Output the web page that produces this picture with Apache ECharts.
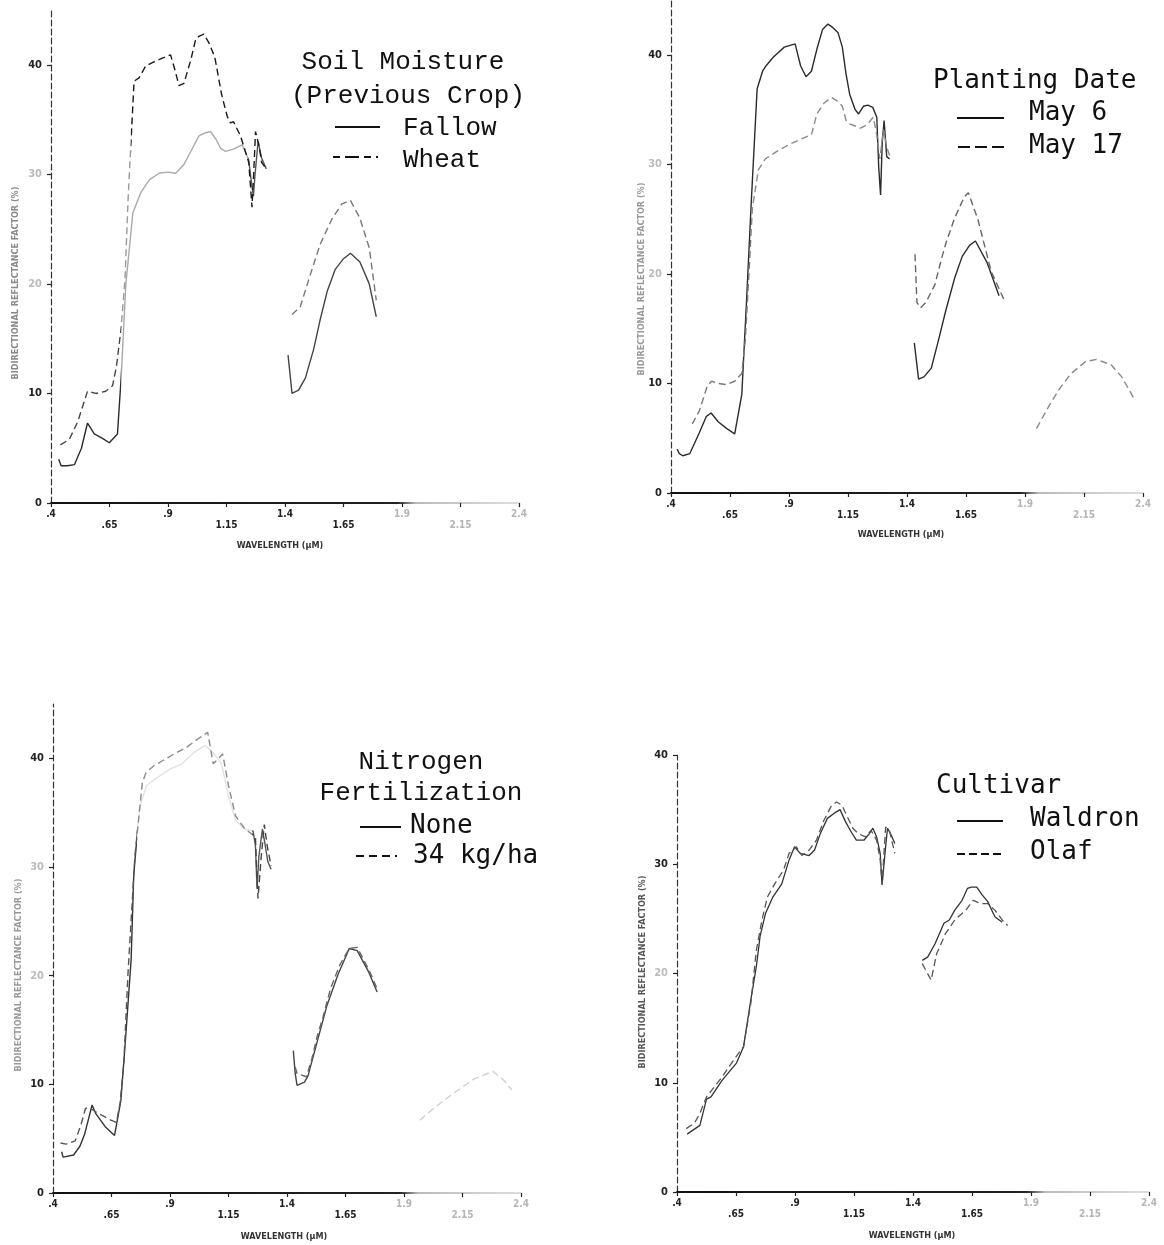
<!DOCTYPE html>
<html>
<head>
<meta charset="utf-8">
<script src="https://cdn.jsdelivr.net/npm/echarts@6/dist/echarts.min.js"></script>
<style>
html,body{margin:0;padding:0;background:#fff;}
#chart{width:1164px;height:1245px;}
</style>
</head>
<body>
<div id="chart"></div>
<script>
// ---------- axes ----------
const wavelengthTicks = [0.4, 0.65, 0.9, 1.15, 1.4, 1.65, 1.9, 2.15, 2.4];
const wavelengthTickLabels = ['.4', '.65', '.9', '1.15', '1.4', '1.65', '1.9', '2.15', '2.4'];
const reflectanceTicks = [0, 10, 20, 30, 40];
const xTitle = 'WAVELENGTH (\u03bcM)';
const yTitle = 'BIDIRECTIONAL REFLECTANCE FACTOR (%)';

// ---------- panel 1 : Soil Moisture (Previous Crop) ----------
const fallowX = [0.433,0.443,0.47,0.50,0.53,0.556,0.585,0.62,0.649,0.684,0.70,0.72,0.75,0.783,0.82,0.862,0.90,0.933,0.968,1.0,1.032,1.06,1.082,1.105,1.124,1.146,1.18,1.217,1.245,1.258,1.265,1.272,1.285,1.30,1.32,null,1.413,1.43,1.458,1.487,1.522,1.55,1.58,1.614,1.65,1.68,1.72,1.76,1.79];
const fallowY = [4.0,3.4,3.4,3.5,5.0,7.3,6.3,5.9,5.5,6.3,11.5,20,26.5,28.3,29.5,30.1,30.2,30.1,30.9,32.2,33.5,33.8,33.9,33.2,32.4,32.1,32.3,32.7,31.3,29,28,30,33,31.5,30.5,null,13.5,10.0,10.3,11.4,14.0,16.7,19.3,21.3,22.3,22.8,22,20,17];
const wheatX = [0.44,0.478,0.514,0.556,0.592,0.634,0.663,0.68,0.70,0.716,0.73,0.755,0.776,0.805,0.833,0.876,0.911,0.93,0.947,0.968,0.997,1.018,1.032,1.053,1.075,1.10,1.129,1.153,1.167,1.18,1.21,1.245,1.259,1.266,1.274,1.29,1.30,1.32,null,1.43,1.465,1.515,1.55,1.60,1.643,1.68,1.72,1.76,1.79];
const wheatY = [5.3,5.8,7.4,10.2,10.0,10.2,10.7,12.5,16,20.3,28,38.5,38.8,39.9,40.2,40.6,40.9,39.5,38.1,38.3,40.4,42.3,42.6,42.8,42.0,40.7,37.3,35.3,34.7,34.8,33.5,31.1,27.0,30,33.9,32.5,31.1,30.5,null,17.2,17.9,21.3,23.6,25.9,27.3,27.6,26.0,23.3,18.5];

// ---------- panel 2 : Planting Date ----------
const may6X = [0.426,0.435,0.45,0.48,0.52,0.55,0.57,0.60,0.635,0.67,0.70,0.72,0.74,0.765,0.788,0.803,0.834,0.88,0.926,0.949,0.972,0.995,1.018,1.042,1.065,1.085,1.108,1.126,1.142,1.157,1.18,1.195,1.215,1.234,1.255,1.272,1.28,1.288,1.295,1.303,1.314,1.326,null,1.431,1.449,1.472,1.503,1.534,1.565,1.603,1.634,1.665,1.69,1.74,1.79];
const may6Y = [4.0,3.6,3.4,3.6,5.5,7.0,7.3,6.5,5.9,5.4,9,17.5,26.5,36.9,38.5,39.0,39.8,40.7,41.0,39.0,38.0,38.5,40.5,42.3,42.8,42.5,42.0,40.7,38.2,36.4,35.0,34.6,35.3,35.4,35.2,34.3,29.8,27.2,32.0,34.0,30.7,30.5,null,13.7,10.4,10.6,11.4,14.0,16.7,19.7,21.6,22.6,23,21,18];
const may17X = [0.49,0.52,0.554,0.572,0.60,0.634,0.67,0.70,0.715,0.73,0.745,0.77,0.80,0.85,0.90,0.95,0.995,1.018,1.049,1.08,1.103,1.126,1.142,1.157,1.18,1.203,1.23,1.257,1.272,1.285,1.30,1.315,1.33,null,1.434,1.442,1.457,1.48,1.518,1.549,1.565,1.60,1.642,1.66,1.70,1.757,1.81,null,1.949,2.003,2.049,2.095,2.157,2.203,2.265,2.31,2.365];
const may17Y = [6.3,7.5,9.8,10.2,10.0,9.9,10.2,10.9,14,20,26,29.5,30.5,31.2,31.8,32.3,32.7,34.6,35.6,36.1,35.8,35.3,34.0,33.7,33.5,33.3,33.6,34.3,32.7,30.5,33.2,31.5,30.6,null,21.8,17.4,16.9,17.4,19.0,21.6,22.8,25.0,27.0,27.4,25.0,20.2,17.7,null,5.9,8.0,9.6,10.9,12.0,12.2,11.7,10.6,8.5];

// ---------- panel 3 : Nitrogen Fertilization ----------
const noneX = [0.437,0.443,0.488,0.515,0.535,0.567,0.583,0.623,0.663,0.69,0.71,0.734,0.745,0.77,0.80,0.85,0.90,0.95,1.0,1.05,1.085,1.12,1.15,1.18,1.22,1.255,1.265,1.272,1.28,1.295,1.303,1.318,1.332,null,1.427,1.435,1.443,1.475,1.49,1.53,1.57,1.618,1.65,1.666,1.70,1.75,1.785];
const noneY = [3.8,3.3,3.5,4.3,5.4,8.1,7.3,6.1,5.3,8.5,14.2,21.5,29.3,35.5,37.5,38.3,39,39.5,40.5,41.2,40.5,39.5,36.5,34.3,33.5,33.3,32.0,28.0,31,33.5,32.5,30.5,29.8,null,13.1,11.0,9.9,10.2,10.8,14.0,17.2,20.1,21.7,22.5,22.3,20.3,18.5];
const kg34X = [0.432,0.456,0.495,0.52,0.539,0.559,0.58,0.647,0.671,0.687,0.703,0.72,0.75,0.782,0.798,0.83,0.87,0.917,0.97,1.02,1.061,1.085,1.125,1.15,1.18,1.22,1.265,1.27,1.276,1.29,1.303,1.315,1.332,null,1.435,1.443,1.483,1.507,1.53,1.554,1.586,1.626,1.666,1.70,1.753,1.785];
const kg34Y = [4.6,4.5,4.8,6.3,7.8,7.8,7.5,6.7,6.5,8.3,12.1,20,31,37.8,38.7,39.3,39.8,40.4,41.0,41.8,42.4,39.5,40.4,37.5,34.7,33.5,32.8,30,27.1,31,33.9,32,30.1,null,11.6,11.0,10.7,12.4,14.5,16.2,18.8,21.0,22.5,22.6,20.4,18.8];
const kg34SwirX = [1.968,2.016,2.1,2.2,2.28,2.33,2.36];
const kg34SwirY = [6.7,7.6,9.0,10.5,11.2,10.3,9.5];

// ---------- panel 4 : Cultivar ----------
const waldronX = [0.443,0.497,0.525,0.544,0.59,0.652,0.682,0.713,0.736,0.752,0.775,0.806,0.844,0.875,0.898,0.922,0.96,0.983,1.007,1.037,1.068,1.091,1.114,1.137,1.16,1.192,1.215,1.23,1.246,1.261,1.269,1.277,1.284,1.292,1.307,1.323,null,1.439,1.462,1.493,1.531,1.554,1.577,1.608,1.631,1.647,1.67,1.693,1.716,1.747,1.778];
const waldronY = [5.3,6.1,8.5,8.7,10.2,11.8,13.3,17.6,20.6,23.4,25.5,27.0,28.2,30.4,31.6,31.0,30.8,31.3,32.8,34.2,34.7,35.0,33.9,33.0,32.2,32.2,32.8,33.3,32.5,31.0,28.1,28.1,31.6,33.3,32.7,31.9,null,21.2,21.5,22.7,24.6,24.9,25.8,26.7,27.8,27.9,27.9,27.2,26.6,25.2,24.7];
const olafX = [0.439,0.474,0.497,0.525,0.59,0.644,0.682,0.713,0.736,0.76,0.783,0.814,0.852,0.875,0.906,0.929,0.96,0.991,1.022,1.053,1.076,1.099,1.114,1.145,1.168,1.199,1.222,1.246,1.261,1.269,1.284,1.30,1.323,null,1.439,1.477,1.50,1.539,1.577,1.624,1.655,1.686,1.716,1.747,1.778,1.801];
const olafY = [5.8,6.3,7.2,8.7,10.5,12.2,13.3,17.3,22.1,24.9,27.0,28.2,29.5,31.0,31.6,30.8,31.3,32.2,34.0,35.3,35.7,35.4,34.7,33.3,32.8,32.5,33.1,32.2,30.4,28.2,33.4,33.1,31.0,null,20.9,19.4,21.8,23.7,24.9,25.8,26.7,26.4,26.4,25.8,24.9,24.4];

// ---------- build ----------
function pairs(xs, ys) {
  return xs.map((x, i) => (x === null || ys[i] === null) ? [null, null] : [x, ys[i]]);
}

const grids = [
  {left: 51, top: 10, width: 468, height: 493, yMax: 45},
  {left: 671, top: 0, width: 472, height: 493, yMax: 45},
  {left: 53, top: 704, width: 468, height: 489, yMax: 45},
  {left: 677, top: 755, width: 472, height: 437, yMax: 40}
];

const LABEL_FONT = '"DejaVu Sans Condensed","Liberation Sans Narrow","DejaVu Sans",sans-serif';

function xAxisFor(i) {
  const g = grids[i];
  return {
    type: 'value', gridIndex: i, min: 0.4, max: 2.4,
    axisLine: {lineStyle: {width: 1.8, color: new echarts.graphic.LinearGradient(g.left, 0, g.left + g.width, 0, [
      {offset: 0, color: '#111'}, {offset: 0.74, color: '#222'}, {offset: 0.78, color: '#bbb'}, {offset: 1, color: '#ddd'}
    ], true)}},
    axisTick: {customValues: wavelengthTicks, length: 4, lineStyle: {color: '#222', width: 1.2}},
    axisLabel: {
      customValues: wavelengthTicks, margin: 6, fontSize: 10, lineHeight: 11,
      fontFamily: LABEL_FONT, fontWeight: 'bold', color: '#222',
      formatter: function (v) {
        const idx = wavelengthTicks.findIndex(t => Math.abs(t - v) < 1e-6);
        const s = wavelengthTickLabels[idx];
        const st = v >= 1.85 ? 'f' : 'n';
        return (idx % 2 === 1 ? '\n' : '') + '{' + st + '|' + s + '}';
      },
      rich: {
        n: {color: '#222', fontSize: 10, lineHeight: 11, fontWeight: 'bold', fontFamily: LABEL_FONT},
        f: {color: '#b5b5b5', fontSize: 10, lineHeight: 11, fontWeight: 'bold', fontFamily: LABEL_FONT}
      }
    },
    splitLine: {show: false}
  };
}
function yAxisFor(i) {
  const g = grids[i];
  return {
    type: 'value', gridIndex: i, min: 0, max: g.yMax,
    axisLine: {show: true, lineStyle: {color: '#333', width: 1.2, type: [6, 3]}},
    axisTick: {show: true, customValues: reflectanceTicks, length: 4, lineStyle: {color: '#222', width: 1.2}},
    axisLabel: {
      customValues: reflectanceTicks, margin: 9, fontSize: 11, fontFamily: LABEL_FONT, fontWeight: 'bold',
      formatter: function (v) {
        const faint = (i < 3 && (v === 20 || v === 30)) || (i === 3 && v === 20);
        return '{' + (faint ? 'f' : 'n') + '|' + v + '}';
      },
      rich: {
        n: {color: '#222', fontSize: 11, fontWeight: 'bold', fontFamily: LABEL_FONT},
        f: {color: '#bbb', fontSize: 11, fontWeight: 'bold', fontFamily: LABEL_FONT}
      }
    },
    splitLine: {show: false}
  };
}
// color === null -> the colour comes from the visualMap (scan fading by wavelength band)
function lineSeries(name, i, xs, ys, dashed, color, width) {
  const ls = {width: width || 1.4, type: dashed ? [7, 4] : 'solid'};
  if (color) ls.color = color;
  return {
    name: name, type: 'line', xAxisIndex: i, yAxisIndex: i,
    data: pairs(xs, ys), showSymbol: false, symbol: 'none', connectNulls: false,
    lineStyle: ls, silent: true, animation: false
  };
}
function fade(seriesIndex, pieces) {
  return {type: 'piecewise', show: false, seriesIndex: seriesIndex, dimension: 0, pieces: pieces};
}

const MONO_SERIF = '"Liberation Mono","Courier New",monospace';
const MONO_SANS = '"DejaVu Sans Mono","Liberation Mono",monospace';
function txt(text, x, y, font, align) {
  return {type: 'text', x: x, y: y, silent: true,
    style: {text: text, fontSize: 26, fontFamily: font, fill: '#111', align: align || 'left', verticalAlign: 'middle'}};
}
function sample(x1, x2, y, dash) {
  return {type: 'line', silent: true, shape: {x1: x1, y1: y, x2: x2, y2: y},
    style: {stroke: '#111', lineWidth: 2, lineDash: dash || null}};
}
function smallTxt(text, x, y, rot, color) {
  return {type: 'text', x: x, y: y, rotation: rot || 0, silent: true,
    style: {text: text, fontSize: 9, fontWeight: 'bold', fontFamily: LABEL_FONT, fill: color || '#333', align: 'center', verticalAlign: 'middle'}};
}

const graphics = [
  txt('Soil Moisture', 403, 62, MONO_SERIF, 'center'),
  txt('(Previous Crop)', 408, 96, MONO_SERIF, 'center'),
  sample(335, 380, 127),
  txt('Fallow', 403, 128, MONO_SERIF),
  sample(333, 378, 157, [7, 5, 14, 5]),
  txt('Wheat', 403, 160, MONO_SERIF),
  txt('Planting Date', 933, 81, MONO_SANS),
  sample(957, 1004, 118),
  txt('May 6', 1029, 113, MONO_SANS),
  sample(958, 1004, 147, [12, 5]),
  txt('May 17', 1029, 146, MONO_SANS),
  txt('Nitrogen', 421, 762, MONO_SERIF, 'center'),
  txt('Fertilization', 421, 793, MONO_SERIF, 'center'),
  sample(360, 401, 827),
  txt('None', 410, 826, MONO_SANS),
  sample(356, 397, 856, [8, 5]),
  txt('34 kg/ha', 413, 856, MONO_SANS),
  txt('Cultivar', 936, 786, MONO_SANS),
  sample(957, 1003, 821),
  txt('Waldron', 1030, 819, MONO_SANS),
  sample(957, 1002, 854, [8, 4]),
  txt('Olaf', 1030, 852, MONO_SANS),
  smallTxt(xTitle, 280, 546),
  smallTxt(xTitle, 901, 535),
  smallTxt(xTitle, 284, 1237),
  smallTxt(xTitle, 912, 1236),
  smallTxt(yTitle, 16, 283, Math.PI / 2, '#888'),
  smallTxt(yTitle, 642, 279, Math.PI / 2, '#999'),
  smallTxt(yTitle, 19, 975, Math.PI / 2, '#999'),
  smallTxt(yTitle, 643, 972, Math.PI / 2, '#555')
];

const option = {
  backgroundColor: '#ffffff',
  animation: false,
  grid: grids.map(g => ({left: g.left, top: g.top, width: g.width, height: g.height, containLabel: false})),
  xAxis: [0, 1, 2, 3].map(xAxisFor),
  yAxis: [0, 1, 2, 3].map(yAxisFor),
  visualMap: [
    fade(0, [{lt: 0.7, color: '#2b2b2b'}, {gte: 0.7, lt: 1.24, color: '#aaaaaa'}, {gte: 1.24, lt: 1.4, color: '#555555'}, {gte: 1.4, color: '#444444'}]),
    fade(1, [{lt: 0.7, color: '#444444'}, {gte: 0.7, lt: 0.74, color: '#999999'}, {gte: 0.74, lt: 1.4, color: '#1a1a1a'}, {gte: 1.4, color: '#777777'}]),
    fade(3, [{lt: 0.74, color: '#777777'}, {gte: 0.74, lt: 1.4, color: '#8a8a8a'}, {gte: 1.4, lt: 1.9, color: '#666666'}, {gte: 1.9, color: '#888888'}]),
    fade(4, [{lt: 0.76, color: '#333333'}, {gte: 0.76, lt: 1.25, color: '#e2e2e2'}, {gte: 1.25, lt: 1.4, color: '#555555'}, {gte: 1.4, color: '#444444'}]),
    fade(5, [{lt: 0.76, color: '#555555'}, {gte: 0.76, lt: 1.25, color: '#8a8a8a'}, {gte: 1.25, lt: 1.4, color: '#444444'}, {gte: 1.4, color: '#666666'}])
  ],
  series: [
    lineSeries('Fallow', 0, fallowX, fallowY, false, null),
    lineSeries('Wheat', 0, wheatX, wheatY, true, null),
    lineSeries('May 6', 1, may6X, may6Y, false, '#2b2b2b'),
    lineSeries('May 17', 1, may17X, may17Y, true, null),
    lineSeries('None', 2, noneX, noneY, false, null),
    lineSeries('34 kg/ha', 2, kg34X, kg34Y, true, null),
    lineSeries('34 kg/ha (2.0-2.4)', 2, kg34SwirX, kg34SwirY, true, '#d0d0d0'),
    lineSeries('Waldron', 3, waldronX, waldronY, false, '#333333', 1.3),
    lineSeries('Olaf', 3, olafX, olafY, true, '#555555', 1.3)
  ],
  graphic: graphics
};

const chart = echarts.init(document.getElementById('chart'), null, {renderer: 'canvas'});
chart.setOption(option);
</script>
</body>
</html>
